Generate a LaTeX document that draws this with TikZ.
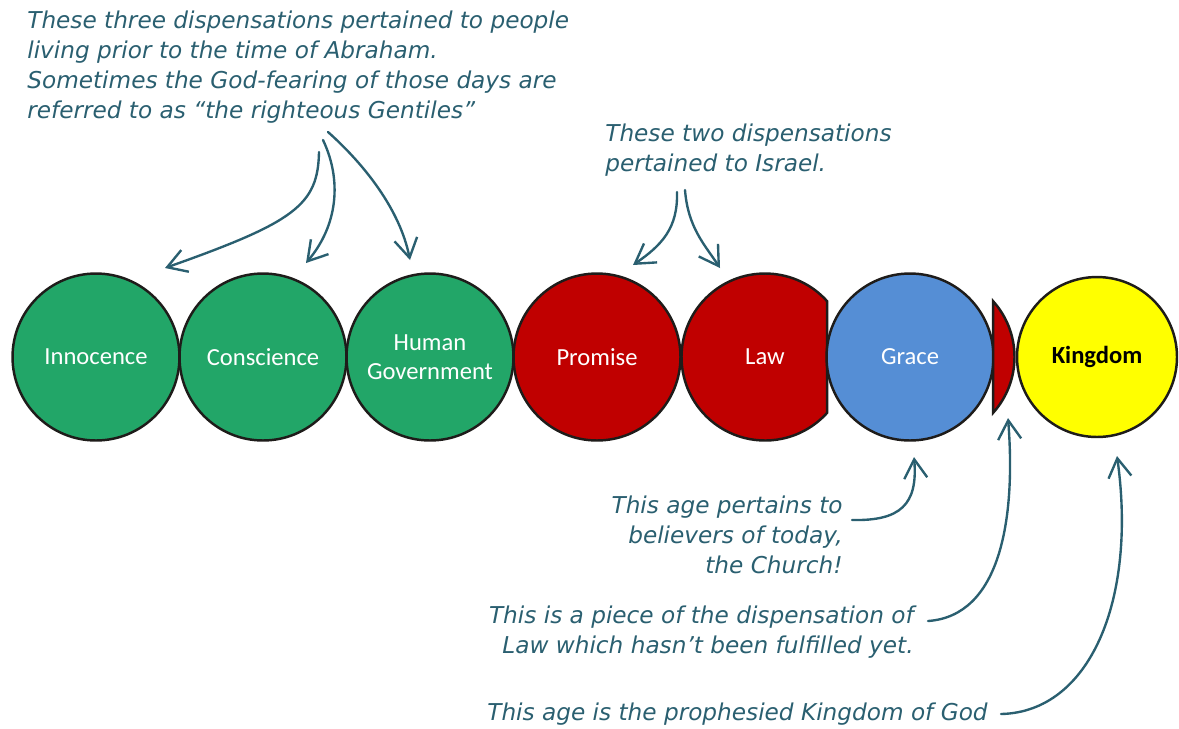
\documentclass[tikz,border=0pt]{standalone}
\usepackage{fontspec}
\setmainfont{Carlito}
\newfontfamily\handfont{DejaVu Sans}
\usetikzlibrary{arrows.meta}
\definecolor{agegreen}{RGB}{34,166,104}
\definecolor{agered}{RGB}{192,0,0}
\definecolor{ageblue}{RGB}{85,142,213}
\definecolor{ageyellow}{RGB}{255,255,0}
\definecolor{rimdark}{RGB}{30,28,26}
\definecolor{noteteal}{RGB}{42,95,112}
\tikzset{
    % Dispensation circles
    agerim/.style={
        draw=rimdark, line width=1.4pt
    },
    agelabel/.style={
        inner sep=0pt, text=white, align=center,
        font=\fontsize{14}{16.5}\selectfont
    },
    age/.style={
        circle, agerim, agelabel,
        minimum size=3.34cm
    },
    greenage/.style={age, fill=agegreen},
    redage/.style={age, fill=agered},
    % Handwritten notes
    note/.style={
        inner sep=0pt, text=noteteal,
        font=\handfont\itshape\fontsize{13.2}{17}\selectfont
    },
    pointer/.style={
        draw=noteteal, line width=1.35pt, line cap=round,
        -{Straight Barb[length=3.8mm,width=4.6mm,line width=1.35pt]}
    }
}
\begin{document}
\begin{tikzpicture}[x=0.02cm,y=-0.02cm]
\useasboundingbox (0,0) rectangle (1179,728);

% Dispensations before Abraham
\node[greenage] (innocence) at (96,357) {Innocence};
\node[greenage] (conscience) at (263,357) {Conscience};
\node[greenage] (government) at (430,357) {Human\\Government};

% Dispensations of Israel
\node[redage] (promise) at (597,357) {Promise};
\draw[agerim, fill=agered] (827.05,301.13) arc[start angle=-42, end angle=-318, radius=83.5] -- cycle;
\node[agelabel] (law) at (765,357) {Law};

% Church age, the rest of Law, the Kingdom
\node[age, fill=ageblue] (grace) at (910,357) {Grace};
\draw[agerim, fill=agered] (993.05,301.13) arc[start angle=-42, end angle=42, radius=83.5] -- cycle;
\coordinate (piece) at (993,357);
\node[age, fill=ageyellow, text=black, minimum size=3.2cm,
      font=\fontsize{14}{16.5}\selectfont\bfseries] (kingdom) at (1097,357) {Kingdom};

% Notes
\node[note, anchor=north west, align=left] (gentiles) at (27,11)
    {These three dispensations pertained to people\\living prior to the time of Abraham.\\Sometimes the God-fearing of those days are\\referred to as “the righteous Gentiles”};
\node[note, anchor=north west, align=left] (israel) at (605,124)
    {These two dispensations\\pertained to Israel.};
\node[note, anchor=north east, align=right] (church) at (843,496)
    {This age pertains to\\believers of today,\\the Church!};
\node[note, anchor=north east, align=right] (unfinished) at (914,606)
    {This is a piece of the dispensation of\\Law which hasn’t been fulfilled yet.};
\node[note, anchor=north west] (prophecy) at (487,703)
    {This age is the prophesied Kingdom of God};

% Arrow tails
\coordinate (gentilesA) at (319,152);
\coordinate (gentilesB) at (323,140);
\coordinate (gentilesC) at (328,132);
\coordinate (israelA) at (677,192);
\coordinate (israelB) at (685,190);
\coordinate (churchtail) at (852,520);
\coordinate (piecetail) at (928,621);
\coordinate (kingdomtail) at (1001,714);

% Arrows
\draw[pointer] (gentilesA) .. controls (318,205) and (295,222) .. ([shift={(69,-89)}]innocence.center);
\draw[pointer] (gentilesB) .. controls (342,180) and (338,225) .. ([shift={(43,-94)}]conscience.center);
\draw[pointer] (gentilesC) .. controls (365,165) and (400,210) .. ([shift={(-20,-97)}]government.center);
\draw[pointer] (israelA) .. controls (678,228) and (662,245) .. ([shift={(36,-92)}]promise.center);
\draw[pointer] (israelB) .. controls (688,228) and (705,245) .. ([shift={(-45,-89)}]law.center);
\draw[pointer] (churchtail) .. controls (900,521) and (918,505) .. ([shift={(4,100)}]grace.center);
\draw[pointer] (piecetail) .. controls (1000,616) and (1016,520) .. ([shift={(15,61)}]piece);
\draw[pointer] (kingdomtail) .. controls (1090,712) and (1137,600) .. ([shift={(20,99)}]kingdom.center);

\end{tikzpicture}
\end{document}
